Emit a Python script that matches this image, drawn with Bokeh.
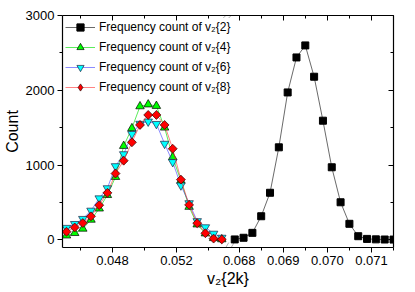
from bokeh.plotting import figure
from bokeh.models import (Range1d, LinearAxis, FixedTicker, CustomJSTickFormatter,
                          Legend, LegendItem, PolyAnnotation)
from bokeh.embed import file_html
from bokeh.resources import INLINE

# ---------------- data ----------------
x_left = [0.045125, 0.045638, 0.046144, 0.046656, 0.047169, 0.047681, 0.048188,
          0.048700, 0.049213, 0.049719, 0.050231, 0.050744, 0.051256, 0.051763,
          0.052275, 0.052788, 0.053294, 0.053806, 0.054319, 0.054831]
count_v24 = [57, 90, 148, 268, 418, 598, 840, 1255, 1492, 1785, 1810, 1790, 1500,
             1105, 790, 440, 205, 85, 22, 6]
count_v26 = [160, 212, 280, 390, 555, 690, 985, 1145, 1416, 1552, 1582, 1550, 1285,
             1040, 728, 490, 250, 168, 82, 28]
count_v28 = [108, 165, 224, 314, 463, 628, 886, 1058, 1304, 1536, 1670, 1670, 1536,
             1218, 805, 467, 222, 88, 16, 5]

x_right = [0.0679, 0.0681, 0.0683, 0.0685, 0.0687, 0.0689, 0.0691, 0.0693, 0.0695,
           0.0697, 0.0699, 0.0701, 0.0703, 0.0705, 0.0707, 0.0709, 0.0711, 0.0713, 0.0715]
count_v22 = [5, 27, 93, 315, 629, 1237, 1971, 2439, 2600, 2181, 1593, 970, 502, 214,
             48, 12, 6, 4, 3]

left_major = [0.048, 0.052]
left_minor = [0.046, 0.050, 0.054]
right_major = [0.068, 0.069, 0.070, 0.071]
right_minor = [0.0685, 0.0695, 0.0705, 0.0715]
x_labels_left = ["0.048", "0.052"]
x_labels_right = ["0.068", "0.069", "0.070", "0.071"]
y_major = [0, 1000, 2000, 3000]
y_minor = [500, 1500, 2500]
labels = ["Frequency count of v\u2082{2}", "Frequency count of v\u2082{4}",
          "Frequency count of v\u2082{6}", "Frequency count of v\u2082{8}"]

# ---------------- ranges (broken axis) ----------------
L0, L1 = 0.044875, 0.0655625
R0, R1 = 0.0639943, 0.0715
Y0, Y1 = -103, 3000
break_left = 0.05525

def to_left(v):
    return L0 + (v - R0) * (L1 - L0) / (R1 - R0)

FONT = "Liberation Sans"

p = figure(width=414, height=291, output_backend="svg", toolbar_location=None,
           x_range=Range1d(L0, L1), y_range=Range1d(Y0, Y1),
           x_axis_type=None, y_axis_type=None,
           min_border_left=62, min_border_right=21, min_border_top=15,
           min_border_bottom=44)
p.extra_x_ranges = {"right": Range1d(R0, R1)}
p.extra_y_ranges = {"legend_only": Range1d(1e6, 2e6)}
p.grid.visible = False
p.outline_line_color = None
p.background_fill_color = "white"

tick_pos = left_major + [to_left(v) for v in right_major]
minor_pos = left_minor + [to_left(v) for v in right_minor]
tick_lab = x_labels_left + x_labels_right
xt = FixedTicker(ticks=tick_pos, minor_ticks=minor_pos)
fmt = CustomJSTickFormatter(args=dict(pos=tick_pos, lab=tick_lab), code="""
    let best = 0, d = 1e9;
    for (let i = 0; i < pos.length; i++) {
        const dd = Math.abs(pos[i] - tick);
        if (dd < d) { d = dd; best = i; }
    }
    return lab[best];
""")
blank = CustomJSTickFormatter(code="return '';")
yt = FixedTicker(ticks=y_major, minor_ticks=y_minor)

def style(ax, labels_on, inward):
    ax.axis_line_color = "black"
    ax.axis_line_width = 1.2
    ax.major_tick_line_color = "black"
    ax.minor_tick_line_color = "black"
    if inward:
        ax.major_tick_in, ax.major_tick_out = 5, 0
        ax.minor_tick_in, ax.minor_tick_out = 3, 0
    else:
        ax.major_tick_in, ax.major_tick_out = 0, 5
        ax.minor_tick_in, ax.minor_tick_out = 0, 3
    if labels_on:
        ax.major_label_text_font = FONT
        ax.major_label_text_font_size = "13px"
        ax.major_label_text_color = "black"
        ax.major_label_standoff = 3
        ax.axis_label_text_font = FONT
        ax.axis_label_text_font_size = "16px"
        ax.axis_label_text_font_style = "normal"
        ax.axis_label_text_color = "black"
        ax.axis_label_standoff = 2
    else:
        ax.formatter = blank
        ax.major_label_standoff = 0

xb = LinearAxis(ticker=xt, formatter=fmt, axis_label="v\u2082{2k}")
style(xb, True, False)
p.add_layout(xb, "below")
xa = LinearAxis(ticker=xt)
style(xa, False, True)
p.add_layout(xa, "above")
yl = LinearAxis(ticker=yt, axis_label="Count")
style(yl, True, False)
p.add_layout(yl, "left")
yr = LinearAxis(ticker=yt)
style(yr, False, True)
p.add_layout(yr, "right")

# ---------------- series ----------------
l4 = p.line(x_left, count_v24, line_color="#00e000", line_width=0.8, line_alpha=0.8)
m4 = p.scatter(x_left, count_v24, marker="triangle", size=8.5, fill_color="#00ff00",
               line_color="black", line_width=0.7)
l6 = p.line(x_left, count_v26, line_color="#3030ff", line_width=0.8, line_alpha=0.7)
m6 = p.scatter(x_left, count_v26, marker="inverted_triangle", size=8.5,
               fill_color="#00ffff", line_color="#202040", line_width=0.7)
l8 = p.line(x_left, count_v28, line_color="#ff2020", line_width=0.8, line_alpha=0.7)
m8 = p.scatter(x_left, count_v28, marker="square", angle=45, angle_units="deg",
               size=6.3, fill_color="#ff0000", line_color="#300000", line_width=0.7)
# legend glyph for v2{8}: same data on a range that keeps it out of view
m8_leg = p.scatter(x_left, count_v28, y_range_name="legend_only", marker="diamond",
                   size=12, fill_color="#ff0000", line_color="#300000", line_width=0.7)
l2 = p.line(x_right, count_v22, x_range_name="right", line_color="#444444",
            line_width=0.8)
m2 = p.scatter(x_right, count_v22, x_range_name="right", marker="square", size=7,
               fill_color="black", line_color="black")

legend = Legend(items=[LegendItem(label=labels[0], renderers=[l2, m2]),
                       LegendItem(label=labels[1], renderers=[l4, m4]),
                       LegendItem(label=labels[2], renderers=[l6, m6]),
                       LegendItem(label=labels[3], renderers=[l8, m8_leg])],
                location="top_left", border_line_color="white",
                border_line_alpha=0, background_fill_alpha=0, margin=0,
                padding=3, spacing=2, glyph_height=18, label_height=18,
                glyph_width=30, label_standoff=4, label_text_font=FONT,
                label_text_font_size="12px", label_text_color="black")
p.add_layout(legend)

# ---------------- axis-break marks ----------------
dx = (L1 - L0) / 331.0   # one pixel, left-range units
dy = (Y1 - Y0) / 232.0   # one pixel, count units
for yc, h, w in ((Y1, 2.5, 2.5), (Y0, 5, 3)):
    for off in (-2.7, 2.7):
        p.add_layout(PolyAnnotation(
            xs=[break_left + (off - w) * dx, break_left + (off + w) * dx],
            ys=[yc - h * dy, yc + h * dy],
            line_color="black", line_width=1, fill_alpha=0))

open("out.html", "w").write(file_html(p, INLINE))
